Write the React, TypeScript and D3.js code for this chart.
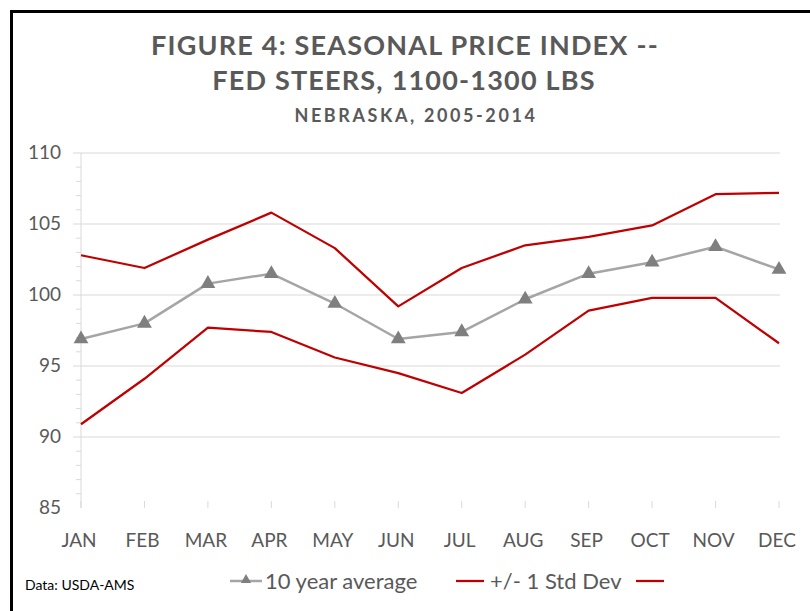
import React from 'react'
import * as d3 from 'd3'

const months = ['JAN', 'FEB', 'MAR', 'APR', 'MAY', 'JUN', 'JUL', 'AUG', 'SEP', 'OCT', 'NOV', 'DEC']
const avg = [96.9, 98.0, 100.8, 101.5, 99.4, 96.9, 97.4, 99.7, 101.5, 102.3, 103.4, 101.8]
const upper = [102.8, 101.9, 103.9, 105.8, 103.3, 99.2, 101.9, 103.5, 104.1, 104.9, 107.1, 107.2]
const lower = [90.9, 94.1, 97.7, 97.4, 95.6, 94.5, 93.1, 95.8, 98.9, 99.8, 99.8, 96.6]
const yTicks = [85, 90, 95, 100, 105, 110]

const W = 810
const H = 611
const margin = { top: 153, right: 31, bottom: 103, left: 81 }

const App = () => {
	const x = d3
		.scalePoint<string>()
		.domain(months)
		.range([margin.left, W - margin.right])
	const y = d3
		.scaleLinear()
		.domain([85, 110])
		.range([H - margin.bottom, margin.top])

	const line = d3
		.line<number>()
		.x((d, i) => x(months[i]) as number)
		.y(d => y(d))

	const tri = d3.symbol().type(d3.symbolTriangle).size(95)()
	const minor = d3.range(85, 111, 1).filter(v => v % 5 !== 0)
	const font = 'Lato, "Open Sans", sans-serif'
	const grey = '#595959'

	return (
		<svg width={W} height={H} style={{ position: 'absolute', left: 0, top: 0 }}>
			<rect x={0} y={0} width={W} height={H} fill='#fff' />
			{/* frame */}
			<line x1={11} x2={W} y1={11.5} y2={11.5} stroke='#000' strokeWidth={3} />
			<line x1={11.5} x2={11.5} y1={10} y2={H} stroke='#000' strokeWidth={3} />

			{/* titles */}
			<g fontFamily={font} fontWeight='bold' fill={grey} textAnchor='middle'>
				<text x={405} y={55} fontSize={27} letterSpacing={1.2}>
					FIGURE 4: SEASONAL PRICE INDEX --
				</text>
				<text x={404} y={90} fontSize={27} letterSpacing={1.2}>
					FED STEERS, 1100-1300 LBS
				</text>
				<text x={416} y={122} fontSize={18} letterSpacing={2.6}>
					NEBRASKA,  2005-2014
				</text>
			</g>

			{/* gridlines */}
			{yTicks.map(t => (
				<line
					key={t}
					x1={margin.left - 8}
					x2={W - margin.right + 1}
					y1={y(t)}
					y2={y(t)}
					stroke={t === 85 ? 'none' : '#d9d9d9'}
					strokeWidth={1.2}
				/>
			))}
			{minor.map(t => (
				<line key={t} x1={margin.left - 5} x2={margin.left} y1={y(t)} y2={y(t)} stroke='#d9d9d9' />
			))}
			<line x1={margin.left} x2={margin.left} y1={y(110)} y2={y(85)} stroke='#d9d9d9' />
			{months.map(m => (
				<line key={m} x1={x(m)} x2={x(m)} y1={y(85)} y2={y(85) - 7} stroke='#d9d9d9' />
			))}

			{/* axis labels */}
			<g fontFamily={font} fontSize={19} fill={grey}>
				{yTicks.map(t => (
					<text key={t} x={61} y={y(t) + 6} textAnchor='end'>
						{t}
					</text>
				))}
				{months.map(m => (
					<text key={m} x={(x(m) as number) - 2} y={547} textAnchor='middle'>
						{m}
					</text>
				))}
			</g>

			{/* series */}
			<path d={line(upper) ?? ''} fill='none' stroke='#c00000' strokeWidth={2.25} strokeLinejoin='round' />
			<path d={line(lower) ?? ''} fill='none' stroke='#c00000' strokeWidth={2.25} strokeLinejoin='round' />
			<path d={line(avg) ?? ''} fill='none' stroke='#a5a5a5' strokeWidth={2.5} strokeLinejoin='round' />
			{avg.map((v, i) => (
				<path key={i} d={tri ?? ''} transform={`translate(${x(months[i])},${y(v)})`} fill='#7f7f7f' />
			))}

			{/* legend */}
			<text x={25} y={590} fontFamily={font} fontSize={14} fill='#000'>
				Data: USDA-AMS
			</text>
			<g fontFamily={font} fontSize={22} fill={grey}>
				<line x1={230} x2={262} y1={581} y2={581} stroke='#a5a5a5' strokeWidth={2.5} />
				<path d={d3.symbol().type(d3.symbolTriangle).size(45)() ?? ''} transform='translate(246,580)' fill='#7f7f7f' />
				<text x={265} y={589}>10 year average</text>
				<line x1={456} x2={484} y1={581} y2={581} stroke='#c00000' strokeWidth={2.25} />
				<text x={490} y={589}>+/- 1 Std Dev</text>
				<line x1={636} x2={664} y1={581} y2={581} stroke='#c00000' strokeWidth={2.25} />
			</g>
		</svg>
	)
}

export default App
